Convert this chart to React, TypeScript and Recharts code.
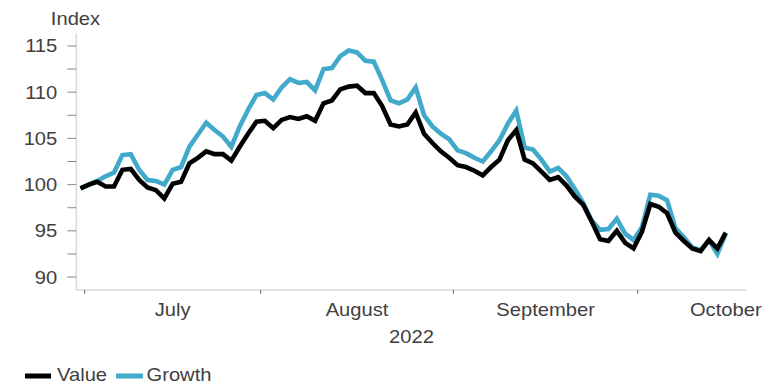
import React from 'react';
import { LineChart, Line, XAxis, YAxis } from 'recharts';

const VALUE = [
  99.6, 100.0, 100.3, 99.8, 99.8, 101.6, 101.7, 100.5, 99.7, 99.4,
  98.5, 100.1, 100.3, 102.3, 102.9, 103.6, 103.3, 103.3, 102.6, 104.1,
  105.5, 106.8, 106.9, 106.1, 107.0, 107.3, 107.1, 107.4, 106.9, 108.8,
  109.1, 110.3, 110.6, 110.7, 109.9, 109.9, 108.5, 106.5, 106.3, 106.5,
  107.8, 105.5, 104.5, 103.6, 102.9, 102.1, 101.9, 101.5, 101.0, 101.9,
  102.7, 104.8, 105.9, 102.7, 102.3, 101.4, 100.5, 100.8, 99.9, 98.7,
  97.8, 96.0, 94.1, 93.9, 95.0, 93.7, 93.1, 94.9, 97.9, 97.6,
  96.9, 94.8, 93.9, 93.1, 92.8, 94.0, 93.1, 94.8,
];

const GROWTH = [
  99.6, 100.0, 100.4, 100.9, 101.3, 103.2, 103.3, 101.6, 100.5, 100.4,
  100.0, 101.6, 101.9, 104.1, 105.4, 106.7, 105.9, 105.2, 104.1, 106.3,
  108.1, 109.7, 109.9, 109.2, 110.5, 111.4, 111.0, 111.1, 110.2, 112.5,
  112.6, 113.9, 114.5, 114.3, 113.4, 113.3, 111.3, 109.1, 108.8, 109.2,
  110.5, 107.5, 106.3, 105.5, 104.9, 103.7, 103.4, 102.9, 102.5, 103.6,
  104.8, 106.6, 108.0, 104.0, 103.8, 102.7, 101.4, 101.8, 100.9, 99.5,
  98.0, 96.1, 95.1, 95.2, 96.3, 94.7, 94.0, 95.4, 98.9, 98.8,
  98.3, 95.3, 94.3, 93.2, 92.9, 94.0, 92.5, 94.7,
];

// trading-day positions: month boundaries and month label centres
const MONTHS = ['July', 'August', 'September', 'October'];
const MONTH_CENTERS = [11, 33, 55.5, 77];
const MONTH_BOUNDS = [0.5, 21.5, 44.5, 66.5];
const Y_TICKS = [90, 92.5, 95, 97.5, 100, 102.5, 105, 107.5, 110, 112.5, 115];
const YEAR_LABEL = '2022';
const Y_LABEL = 'Index';
const SERIES_NAMES = ['Value', 'Growth'];

const data = VALUE.map((v, i) => ({ i, value: v, growth: GROWTH[i] }));

const FONT = '"Liberation Sans", Arial, sans-serif';
const TEXT = '#404040';
const SX = 1.12;

const XTick = (props: any) => {
  const { x, y, payload } = props;
  const v = payload.value;
  if (MONTH_BOUNDS.indexOf(v) >= 0) {
    return <line x1={x} x2={x} y1={y} y2={y + 3.5} stroke="#555" strokeWidth={1} />;
  }
  const mi = MONTH_CENTERS.indexOf(v);
  if (mi < 0) return <g />;
  return (
    <text transform={`translate(${x},${y + 26}) scale(${SX},1)`} textAnchor="middle" fill={TEXT} fontSize={18} fontFamily={FONT}>
      {MONTHS[mi]}
    </text>
  );
};

const YTick = (props: any) => {
  const { x, y, payload } = props;
  const v = payload.value;
  if (v % 5 !== 0) return <g />;
  return (
    <text transform={`translate(${x},${y + 6.5}) scale(${SX},1)`} textAnchor="end" fill={TEXT} fontSize={18} fontFamily={FONT}>
      {v}
    </text>
  );
};

const YearLabel = (props: any) => {
  const vb = props.viewBox || { x: 76.3, y: 290, width: 670.4, height: 30 };
  return (
    <text transform={`translate(${vb.x + vb.width / 2},${vb.y + 52.7}) scale(${SX},1)`} textAnchor="middle" fill={TEXT} fontSize={18} fontFamily={FONT}>
      {YEAR_LABEL}
    </text>
  );
};

const IndexLabel = (props: any) => {
  const vb = props.viewBox || { x: 0, y: 33, width: 76.3, height: 257 };
  return (
    <text transform={`translate(${vb.x + vb.width - 0.8},${vb.y - 8.5}) scale(${SX},1)`} textAnchor="middle" fill={TEXT} fontSize={18} fontFamily={FONT}>
      {Y_LABEL}
    </text>
  );
};

export default function App() {
  return (
    <div style={{ position: 'absolute', left: 0, top: 0, width: 773, height: 384, background: '#fff', overflow: 'hidden' }}>
      <LineChart width={773} height={384} data={data} margin={{ top: 33, right: 26.3, bottom: 64, left: 0 }}>
        <XAxis
          dataKey="i"
          type="number"
          domain={[-0.5, 79.5]}
          ticks={[...MONTH_BOUNDS, ...MONTH_CENTERS].sort((a, b) => a - b)}
          interval={0}
          height={30}
          tickSize={0}
          tickMargin={0}
          tickLine={false}
          axisLine={{ stroke: '#d9d9d9', strokeWidth: 1.5 }}
          tick={<XTick />}
          label={<YearLabel />}
          allowDecimals
        />
        <YAxis
          domain={[88.6, 116.4]}
          ticks={Y_TICKS}
          interval={0}
          width={76.3}
          tickSize={9}
          tickMargin={10}
          tickLine={{ stroke: '#8a8a8a', strokeWidth: 1 }}
          axisLine={{ stroke: '#d9d9d9', strokeWidth: 1.5 }}
          tick={<YTick />}
          label={<IndexLabel />}
          allowDataOverflow
        />
        <Line type="linear" dataKey="growth" name={SERIES_NAMES[1]} stroke="#41a9c9" strokeWidth={4.6} dot={false} isAnimationActive={false} />
        <Line type="linear" dataKey="value" name={SERIES_NAMES[0]} stroke="#000000" strokeWidth={4.6} dot={false} isAnimationActive={false} />
      </LineChart>
      <svg width={260} height={26} style={{ position: 'absolute', left: 0, top: 358 }}>
        <rect x={25} y={15.5} width={26} height={5} fill="#000000" />
        <text transform={`translate(57,23) scale(${SX},1)`} fill={TEXT} fontSize={18} fontFamily={FONT}>{SERIES_NAMES[0]}</text>
        <rect x={116} y={15.5} width={27} height={5} fill="#41a9c9" />
        <text transform={`translate(146.5,23) scale(${SX},1)`} fill={TEXT} fontSize={18} fontFamily={FONT}>{SERIES_NAMES[1]}</text>
      </svg>
    </div>
  );
}
